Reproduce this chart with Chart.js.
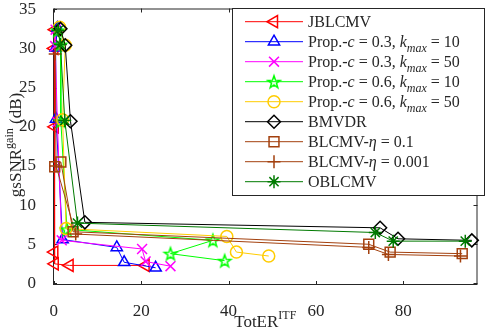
<!DOCTYPE html>
<html>
<head>
<meta charset="utf-8">
<script src="https://cdn.jsdelivr.net/npm/chart.js@4/dist/chart.umd.min.js"></script>
<style>
  html, body { margin: 0; padding: 0; background: #fff; }
  #wrap { width: 486px; height: 330px; }
</style>
</head>
<body>
<div id="wrap"><canvas id="plot" width="486" height="330"></canvas></div>
<script>
// ── Data ─────────────────────────────────────────────
const X_TICKS = [0, 20, 40, 60, 80];
const Y_TICKS = [0, 5, 10, 15, 20, 25, 30, 35];

const SERIES_NAMES = [
  'JBLCMV',
  'Prop.-$c$ = 0.3, $k_{max}$ = 10',
  'Prop.-$c$ = 0.3, $k_{max}$ = 50',
  'Prop.-$c$ = 0.6, $k_{max}$ = 10',
  'Prop.-$c$ = 0.6, $k_{max}$ = 50',
  'BMVDR',
  'BLCMV-$η$ = 0.1',
  'BLCMV-$η$ = 0.001',
  'OBLCMV'
];

const JBLCMV_X = [0.3, 0.1, 0.2, 0.1, 0.2, 3.6, 21.0];
const JBLCMV_Y = [32.4, 30.0, 20.0, 4.0, 2.5, 2.3, 2.3];

const P03K10_X = [0.8, 0.4, 0.5, 2.0, 14.4, 16.1, 23.3];
const P03K10_Y = [32.6, 30.1, 21.0, 5.6, 4.6, 2.7, 2.0];

const P03K50_X = [0.4, 0.3, 0.8, 1.8, 20.2, 21.0, 26.7];
const P03K50_Y = [32.4, 30.3, 20.6, 5.5, 4.4, 2.8, 2.2];

const P06K10_X = [0.9, 1.5, 1.6, 3.0, 36.4, 26.7, 39.1];
const P06K10_Y = [32.3, 30.5, 20.7, 6.9, 5.5, 3.8, 2.9];

const P06K50_X = [1.3, 2.6, 2.0, 2.8, 39.6, 41.8, 49.2];
const P06K50_Y = [32.7, 30.4, 20.9, 7.0, 6.0, 4.0, 3.5];

const BMVDR_X = [1.5, 2.6, 3.8, 7.1, 74.7, 78.8, 95.7];
const BMVDR_Y = [32.5, 30.4, 20.7, 7.8, 7.1, 5.7, 5.5];

const BLCMV1_X = [0.2, 1.6, 4.4, 72.1, 77.0, 93.5];
const BLCMV1_Y = [14.9, 15.5, 6.6, 5.0, 4.0, 3.8];

const BLCMV3_X = [0.3, 0.5, 5.0, 72.1, 76.6, 93.1];
const BLCMV3_Y = [29.3, 15.0, 6.3, 4.6, 3.7, 3.5];

const OBLCMV_X = [1.0, 1.5, 2.5, 5.4, 73.6, 77.7, 94.2];
const OBLCMV_Y = [32.3, 30.5, 20.8, 7.7, 6.5, 5.4, 5.4];

const SERIES_X = [JBLCMV_X, P03K10_X, P03K50_X, P06K10_X, P06K50_X, BMVDR_X, BLCMV1_X, BLCMV3_X, OBLCMV_X];
const SERIES_Y = [JBLCMV_Y, P03K10_Y, P03K50_Y, P06K10_Y, P06K50_Y, BMVDR_Y, BLCMV1_Y, BLCMV3_Y, OBLCMV_Y];

// ── Styles ───────────────────────────────────────────
const SERIF = '"Liberation Serif", "DejaVu Serif", serif';
const AXIS_COLOR = '#262626';

// hollow pentagram marker (Chart.js has no five-point star)
function makePentagram(color, r, lw) {
  const size = Math.ceil(2 * r + 2 * lw + 2);
  const c = document.createElement('canvas');
  c.width = c.height = size;
  const g = c.getContext('2d');
  g.strokeStyle = color;
  g.lineWidth = lw;
  g.beginPath();
  for (let k = 0; k < 10; k++) {
    const rr = k % 2 ? r * 0.4 : r;
    const a = -Math.PI / 2 + k * Math.PI / 5;
    const px = size / 2 + rr * Math.cos(a), py = size / 2 + 0.6 + rr * Math.sin(a);
    if (k) g.lineTo(px, py); else g.moveTo(px, py);
  }
  g.closePath();
  g.stroke();
  return c;
}

const STYLES = [
  { color: '#FF0000', point: 'triangle', rot: -90, r: 7 },
  { color: '#0000FF', point: 'triangle', rot: 0, r: 6.5 },
  { color: '#FF00FF', point: 'crossRot', rot: 0, r: 7 },
  { color: '#00FF00', point: makePentagram('#00FF00', 6.5, 1.5), rot: 0, r: 6 },
  { color: '#FFCC00', point: 'circle', rot: 0, r: 6 },
  { color: '#000000', point: 'rectRot', rot: 0, r: 6.5 },
  { color: '#A3400E', point: 'rect', rot: 0, r: 7 },
  { color: '#A3400E', point: 'cross', rot: 0, r: 6.5 },
  { color: '#007A00', point: 'star', rot: 0, r: 6.5 }
];

const datasets = SERIES_NAMES.map((name, i) => ({
  label: name,
  data: SERIES_X[i].map((x, j) => ({ x, y: SERIES_Y[i][j] })),
  showLine: true,
  borderColor: STYLES[i].color,
  borderWidth: 1,
  backgroundColor: 'rgba(0,0,0,0)',
  pointStyle: STYLES[i].point,
  pointRotation: STYLES[i].rot,
  pointRadius: STYLES[i].r,
  pointBorderWidth: 1.5,
  pointBorderColor: STYLES[i].color,
  pointBackgroundColor: 'rgba(0,0,0,0)',
  tension: 0,
  clip: false,
  order: SERIES_NAMES.length - i
}));

// ── Rich text (italic math, sub/superscripts) ────────
function parseRich(str) {
  const parts = [];
  let math = false, i = 0;
  const push = (t, italic, shift) => {
    const last = parts[parts.length - 1];
    if (last && last.italic === italic && last.shift === shift) last.t += t;
    else parts.push({ t, italic, shift });
  };
  while (i < str.length) {
    const ch = str[i];
    if (ch === '$') { math = !math; i++; continue; }
    if ((ch === '_' || ch === '^') && str[i + 1] === '{') {
      const end = str.indexOf('}', i);
      for (const c of str.slice(i + 2, end)) push(c, math && /[A-Za-zη]/.test(c), ch === '_' ? 'sub' : 'sup');
      i = end + 1;
      continue;
    }
    push(ch, math && /[A-Za-zη]/.test(ch), null);
    i++;
  }
  return parts;
}

function richFont(p, size) {
  const s = p.shift ? Math.round(size * 0.72) : size;
  return (p.italic ? 'italic ' : '') + s + 'px ' + SERIF;
}

function richWidth(ctx, parts, size) {
  let w = 0;
  for (const p of parts) { ctx.font = richFont(p, size); w += ctx.measureText(p.t).width; }
  return w;
}

function drawRich(ctx, parts, x, y, size) {
  ctx.textBaseline = 'alphabetic';
  ctx.textAlign = 'left';
  for (const p of parts) {
    ctx.font = richFont(p, size);
    const dy = p.shift === 'sub' ? size * 0.28 : p.shift === 'sup' ? -size * 0.45 : 0;
    ctx.fillText(p.t, x, y + dy);
    x += ctx.measureText(p.t).width;
  }
}

// ── Plugins ──────────────────────────────────────────
// box and inward ticks on all four sides
const frameLayer = {
  id: 'frameLayer',
  beforeDatasetsDraw(chart) {
    const { ctx, chartArea: a, scales } = chart;
    ctx.save();
    ctx.strokeStyle = AXIS_COLOR;
    ctx.lineWidth = 1;
    ctx.strokeRect(a.left + 0.5, a.top + 0.5, a.right - a.left - 1, a.bottom - a.top - 1);
    ctx.beginPath();
    X_TICKS.forEach(v => {
      const x = Math.round(scales.x.getPixelForValue(v)) + 0.5;
      ctx.moveTo(x, a.bottom); ctx.lineTo(x, a.bottom - 4);
      ctx.moveTo(x, a.top); ctx.lineTo(x, a.top + 4);
    });
    Y_TICKS.forEach(v => {
      const y = Math.round(scales.y.getPixelForValue(v)) + 0.5;
      ctx.moveTo(a.left, y); ctx.lineTo(a.left + 4, y);
      ctx.moveTo(a.right, y); ctx.lineTo(a.right - 4, y);
    });
    ctx.stroke();
    ctx.restore();
  }
};

// axis titles with superscripts
const titleLayer = {
  id: 'titleLayer',
  afterDraw(chart) {
    const { ctx, chartArea: a } = chart;
    ctx.save();
    ctx.fillStyle = AXIS_COLOR;
    const xl = parseRich('TotER^{ITF}');
    const xw = richWidth(ctx, xl, 17);
    drawRich(ctx, xl, (a.left + a.right) / 2 - xw / 2, 327, 17);
    const yl = parseRich('gsSNR^{gain} (dB)');
    const yw = richWidth(ctx, yl, 17);
    ctx.translate(21, 145);
    ctx.rotate(-Math.PI / 2);
    drawRich(ctx, yl, -yw / 2, 0, 17);
    ctx.restore();
  }
};

// boxed legend in the upper-right corner
const legendLayer = {
  id: 'legendLayer',
  afterDraw(chart) {
    const { ctx } = chart;
    const box = { x: 232.5, y: 8.5, w: 252, h: 187 };
    ctx.save();
    ctx.fillStyle = '#fff';
    ctx.fillRect(box.x, box.y, box.w, box.h);
    ctx.strokeStyle = AXIS_COLOR;
    ctx.lineWidth = 1;
    ctx.strokeRect(box.x, box.y, box.w, box.h);
    chart.data.datasets.forEach((ds, i) => {
      const cy = 21.7 + 20 * i;
      ctx.strokeStyle = ds.borderColor;
      ctx.lineWidth = 1;
      ctx.beginPath();
      ctx.moveTo(245, cy); ctx.lineTo(303, cy);
      ctx.stroke();
      ctx.fillStyle = 'rgba(0,0,0,0)';
      ctx.strokeStyle = ds.pointBorderColor;
      ctx.lineWidth = ds.pointBorderWidth;
      Chart.helpers.drawPoint(ctx, {
        pointStyle: ds.pointStyle,
        rotation: ds.pointRotation,
        radius: ds.pointRadius,
        borderWidth: ds.pointBorderWidth
      }, 274, cy);
      ctx.fillStyle = AXIS_COLOR;
      drawRich(ctx, parseRich(ds.label), 308, cy + 5.5, 16);
    });
    ctx.restore();
  }
};

// ── Chart ────────────────────────────────────────────
const tickFont = { family: SERIF, size: 17 };

new Chart(document.getElementById('plot').getContext('2d'), {
  type: 'scatter',
  data: { datasets },
  plugins: [frameLayer, titleLayer, legendLayer],
  options: {
    responsive: false,
    animation: false,
    layout: { padding: { top: 6, right: 1, left: 0, bottom: 0 } },
    plugins: { legend: { display: false }, tooltip: { enabled: false } },
    scales: {
      x: {
        type: 'linear',
        min: -0.2, max: 97,
        grid: { display: false },
        border: { display: false },
        afterBuildTicks(s) { s.ticks = X_TICKS.map(v => ({ value: v })); },
        afterFit(s) { s.height = 45; s.paddingLeft = 0; s.paddingRight = 0; },
        ticks: { font: tickFont, color: AXIS_COLOR, padding: 8, maxRotation: 0, autoSkip: false }
      },
      y: {
        type: 'linear',
        min: -0.2, max: 35.1,
        grid: { display: false },
        border: { display: false },
        afterBuildTicks(s) { s.ticks = Y_TICKS.map(v => ({ value: v })); },
        afterFit(s) { s.width = 53; s.paddingTop = 0; s.paddingBottom = 0; },
        ticks: { font: tickFont, color: AXIS_COLOR, padding: 9, autoSkip: false }
      }
    }
  }
});
</script>
</body>
</html>
